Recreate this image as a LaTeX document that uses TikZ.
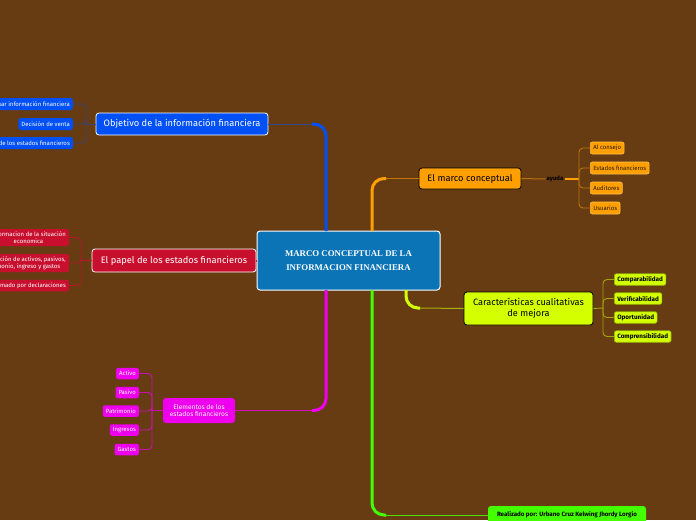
\documentclass[tikz,border=0pt]{standalone}
\usepackage{fontspec}
\setmainfont{Fira Sans}
\newfontfamily\serifb{Liberation Serif}
\definecolor{bg}{HTML}{673C13}
\definecolor{cblue}{HTML}{0A74B6}
\definecolor{obl}{HTML}{0050F5}
\definecolor{ored}{HTML}{C8102E}
\definecolor{omag}{HTML}{EE00EE}
\definecolor{oor}{HTML}{FFA000}
\definecolor{oyel}{HTML}{D4FF00}
\definecolor{ogrn}{HTML}{44FF00}
\tikzset{
  mainN/.style={rounded corners=3pt, inner sep=0pt, align=center, font=\fontsize{9.3}{11}\selectfont},
  kid/.style={rounded corners=2pt, inner xsep=3pt, inner ysep=0pt, align=center, minimum height=12pt, font=\fontsize{6}{7}\selectfont},
  ykid/.style={kid, fill=oyel, draw=oyel!70!black, line width=0.6pt, text=black, anchor=west, minimum height=11.5pt,
      font=\bfseries\fontsize{6.3}{7}\selectfont},
  okid/.style={kid, fill=oor, draw=oor!70!white, line width=0.6pt, text=black!85!oor, anchor=west},
  mkid/.style={kid, fill=omag, text=white, anchor=east, minimum height=11.5pt},
  thick line/.style={line width=3pt, rounded corners=12pt},
  thin line/.style={line width=1pt},
  brk/.style={line width=0.9pt, rounded corners=4pt},
}
\begin{document}
\begin{tikzpicture}[x=1pt,y=-1pt]
\useasboundingbox (0,0) rectangle (696,520);
\clip (0,0) rectangle (696,520);
\fill[bg] (0,0) rectangle (696,520);

\coordinate (blueT) at (326,231);
\coordinate (blueC) at (312,124);
\coordinate (orT) at (372,231);
\coordinate (orC) at (386,178.5);
\coordinate (magB) at (326,290);
\coordinate (magC) at (312,410.5);
\coordinate (grB) at (372,290);
\coordinate (grC) at (386,515);
\coordinate (yeB) at (406,290);
\coordinate (yeC) at (420,308);

% ---------- nodes ----------
\node[mainN, fill=cblue, draw=white, line width=1pt, minimum width=183pt, minimum height=59pt,
      text=white, font=\serifb\bfseries\fontsize{8.8}{13.5}\selectfont] (central) at (348.5,260.5)
      {MARCO CONCEPTUAL DE LA\\INFORMACION FINANCIERA};

\node[mainN, fill=obl, draw=white, line width=0.8pt, minimum width=172pt, minimum height=22pt, text=white]
      (objetivo) at (182,124) {Objetivo de la información financiera};
\node[mainN, fill=ored, draw=white, line width=0.8pt, minimum width=164pt, minimum height=23pt, text=white]
      (papel) at (174,260.5) {El papel de los estados financieros};
\node[mainN, fill=omag, minimum width=72pt, minimum height=25pt, text=white,
      font=\fontsize{6.6}{7.8}\selectfont] (elem) at (199,410.5) {Elementos de los\\estados financieros};
\node[mainN, fill=oor, draw=black, line width=0.8pt, minimum width=102pt, minimum height=21pt, text=black]
      (marco) at (470,178.5) {El marco conceptual};
\node[mainN, fill=oyel, draw=black, line width=0.8pt, minimum width=129pt, minimum height=33pt, text=black,
      font=\fontsize{9.2}{11}\selectfont] (carac) at (528.5,308.5) {Características cualitativas\\de mejora};
\node[mainN, fill=ogrn, minimum width=158pt, minimum height=18pt, text=black,
      font=\bfseries\fontsize{6.2}{7}\selectfont] (real) at (567,515)
      {Realizado por: Urbano Cruz Kelwing Jhordy Lorgio};

% blue children
\node[kid, fill=obl, text=white, anchor=east] (b1) at (73,104) {Evaluar información financiera};
\node[kid, fill=obl, text=white, anchor=east] (b2) at (73,124) {Decisión de venta};
\node[kid, fill=obl, text=white, anchor=east] (b3) at (73,143) {Análisis de los estados financieros};
% red children
\node[kid, fill=ored, text=white, anchor=east, minimum height=17pt] (r1) at (69,237.5) {Informacion de la situación\\economica};
\node[kid, fill=ored, text=white, anchor=east, minimum height=18pt] (r2) at (69,263) {Clasificación de activos, pasivos,\\patrimonio, ingreso y gastos};
\node[kid, fill=ored, text=white, anchor=east, minimum height=11.5pt] (r3) at (69,285.5) {Conformado por declaraciones};
% magenta children
\node[mkid] (m1) at (139,373.5) {Activo};
\node[mkid] (m2) at (139,392.5) {Pasivo};
\node[mkid] (m3) at (139,411) {Patrimonio};
\node[mkid] (m4) at (139,430) {Ingresos};
\node[mkid] (m5) at (139,449.5) {Gastos};
% orange children
\node[okid] (o1) at (590,148) {Al consejo};
\node[okid] (o2) at (590,168) {Estados financieros};
\node[okid] (o3) at (590,188) {Auditores};
\node[okid] (o4) at (590,208) {Usuarios};
\node[inner sep=1pt, font=\bfseries\fontsize{6}{7}\selectfont, text=black] (ayuda) at (555,179) {ayuda};
% yellow children
\node[ykid] (y1) at (614,279.5) {Comparabilidad};
\node[ykid] (y2) at (614,298.5) {Verificabilidad};
\node[ykid] (y3) at (614,317.5) {Oportunidad};
\node[ykid] (y4) at (614,336.5) {Comprensibilidad};

% ---------- connectors ----------
\draw[obl, thick line] (blueT) |- (blueC);
\draw[obl!55!bg, thin line] (blueC) -- (objetivo.east);
\draw[oor, thick line] (orT) |- (orC);
\draw[oor!60!bg, thin line] (orC) -- (marco.west);
\draw[omag, thick line] (magB) |- (magC);
\draw[omag!80!bg, thin line] (magC) -- (elem.east);
\draw[ogrn, thick line] (grB) |- (grC);
\draw[ogrn!85!bg, thin line] (grC) -- (real.west);
\draw[oyel, thick line] (yeB) |- (yeC);
\draw[oyel!60!bg, thin line] (yeC) -- (carac.west);
\draw[ored, line width=2pt] (central.west) -- (papel.east);

% brackets
\coordinate (bjB) at (86,124);
\draw[obl!45!bg, brk] (objetivo.west) -- (bjB);
\foreach \n in {b1,b2,b3} \draw[obl!45!bg, brk] (bjB) |- (\n.east);

\coordinate (bjR) at (81,260.5);
\draw[ored!80!bg, brk] (papel.west) -- (bjR);
\foreach \n in {r1,r2,r3} \draw[ored!80!bg, brk] (bjR) |- (\n.east);

\coordinate (bjM) at (152,410.5);
\draw[omag!70!bg, brk] (elem.west) -- (bjM);
\foreach \n in {m1,m2,m3,m4,m5} \draw[omag!70!bg, brk] (bjM) |- (\n.east);

\coordinate (bjO) at (579,179);
\draw[oor!55!bg, thin line] (marco.east) -- (ayuda.west);
\draw[oor, line width=1.5pt] (ayuda.east) -- (bjO);
\foreach \n in {o1,o2,o3,o4} \draw[oor!55!bg, brk] (bjO) |- (\n.west);

\coordinate (bjY) at (603,308);
\draw[oyel!55!bg, brk] (carac.east) -- (bjY);
\foreach \n in {y1,y2,y3,y4} \draw[oyel!55!bg, brk] (bjY) |- (\n.west);
\end{tikzpicture}
\end{document}
